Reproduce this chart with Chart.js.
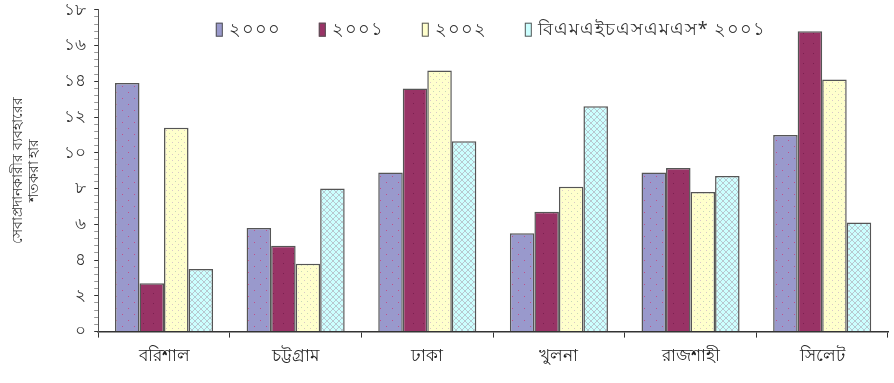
<!DOCTYPE html>
<html lang="bn">
<head>
<meta charset="UTF-8" />
<title>সেবাপ্রদানকারীর ব্যবহার</title>
<script src="https://cdn.jsdelivr.net/npm/chart.js"></script>
<style>
  html, body { margin: 0; padding: 0; background: #fff; }
  #wrap { width: 894px; height: 383px; }
</style>
</head>
<body>
<div id="wrap"><canvas id="chart"></canvas></div>
<script>
  // divisions and series
  const categories = ['বরিশাল', 'চট্টগ্রাম', 'ঢাকা', 'খুলনা', 'রাজশাহী', 'সিলেট'];
  const seriesNames = ['২০০০', '২০০১', '২০০২', 'বিএমএইচএসএমএস* ২০০১'];
  const values2000 = [13.9, 5.8, 8.9, 5.5, 8.9, 11.0];
  const values2001 = [2.7, 4.8, 13.6, 6.7, 9.15, 16.8];
  const values2002 = [11.4, 3.8, 14.6, 8.1, 7.8, 14.1];
  const valuesBmhs = [3.5, 8.0, 10.65, 12.6, 8.7, 6.1];
  const yTitle = ['সেবাপ্রদানকারীর ব্যবহারের', 'শতকরা হার'];

  const bnDigits = ['০', '১', '২', '৩', '৪', '৫', '৬', '৭', '৮', '৯'];
  const toBn = n => String(n).replace(/\d/g, d => bnDigits[+d]);
  const isMajor = v => Math.abs(v / 2 - Math.round(v / 2)) < 1e-6;

  // small tiled fills, drawn once and used as canvas patterns
  function makePattern(bg, draw, size) {
    const c = document.createElement('canvas');
    c.width = size; c.height = size;
    const g = c.getContext('2d');
    g.fillStyle = bg;
    g.fillRect(0, 0, size, size);
    draw(g);
    return g.createPattern(c, 'repeat');
  }
  const ctx = document.getElementById('chart').getContext('2d');

  const fill2000 = makePattern('#9999cc', g => {
    g.fillStyle = '#c0508a';
    g.fillRect(2, 2, 1, 1);
    g.fillRect(8, 8, 1, 1);
  }, 12);
  const fill2001 = makePattern('#993366', g => {
    g.fillStyle = '#7a2050';
    g.fillRect(3, 3, 1, 1);
  }, 10);
  const fill2002 = makePattern('#ffffcc', g => {
    g.fillStyle = '#c8d8b8';
    g.fillRect(1, 1, 1, 1);
    g.fillStyle = '#d8c8c8';
    g.fillRect(4, 4, 1, 1);
  }, 6);
  const fillBmhs = makePattern('#ccffff', g => {
    g.strokeStyle = '#b8c8d0';
    g.lineWidth = 1;
    g.beginPath();
    g.moveTo(0, 0); g.lineTo(6, 6);
    g.moveTo(6, 0); g.lineTo(0, 6);
    g.stroke();
  }, 6);

  const fills = [fill2000, fill2001, fill2002, fillBmhs];
  const swatch = ['#9999cc', '#993366', '#ffffcc', '#ccffff'];
  const seriesValues = [values2000, values2001, values2002, valuesBmhs];

  const font = "'Noto Sans', 'DejaVu Sans', sans-serif";

  // one-row legend drawn inside the top of the plot area
  const insideLegend = {
    id: 'insideLegend',
    afterDraw(chart) {
      const g = chart.ctx;
      const area = chart.chartArea;
      const boxW = 7, boxH = 14, textGap = 6, itemGap = 38;
      g.save();
      g.font = '18px ' + font;
      g.letterSpacing = '1px';
      const widths = seriesNames.map(n => boxW + textGap + g.measureText(n).width);
      const total = widths.reduce((a, b) => a + b, 0) + itemGap * (widths.length - 1);
      let x = (area.left + area.right) / 2 - total / 2 - 2;
      const y = area.top + 20;
      seriesNames.forEach((name, i) => {
        g.fillStyle = swatch[i];
        g.fillRect(x, y - boxH / 2, boxW, boxH);
        g.strokeStyle = '#555';
        g.lineWidth = 1;
        g.strokeRect(x + 0.5, y - boxH / 2 + 0.5, boxW - 1, boxH - 1);
        g.fillStyle = '#333';
        g.textBaseline = 'middle';
        g.fillText(name, x + boxW + textGap, y);
        x += widths[i] + itemGap;
      });
      g.restore();
    }
  };

  new Chart(ctx, {
    type: 'bar',
    data: {
      labels: categories,
      datasets: seriesNames.map((name, i) => ({
        label: name,
        data: seriesValues[i],
        backgroundColor: fills[i],
        borderColor: '#555',
        borderWidth: 1.5,
        borderSkipped: 'bottom',
        categoryPercentage: 0.745,
        barPercentage: 1
      }))
    },
    options: {
      responsive: true,
      maintainAspectRatio: false,
      animation: false,
      layout: { padding: { top: 0, right: 6, left: 6, bottom: 9 } },
      plugins: {
        tooltip: { enabled: false },
        legend: { display: false }
      },
      scales: {
        x: {
          grid: {
            display: true,
            drawOnChartArea: false,
            offset: true,
            tickLength: 6,
            color: '#333'
          },
          border: { color: '#333', width: 1.5 },
          ticks: {
            font: { family: font, size: 17 },
            color: '#222',
            padding: 8
          }
        },
        y: {
          min: 0,
          max: 18,
          grid: {
            drawOnChartArea: false,
            tickLength: 4,
            tickColor: c => (isMajor(c.tick.value) ? '#333' : '#999')
          },
          border: { color: '#555', width: 1 },
          ticks: {
            stepSize: 0.4,
            autoSkip: false,
            // tight line height keeps the top label from pushing the plot down
            font: { family: font, size: 17, lineHeight: 0.2 },
            color: '#333',
            padding: 8,
            callback: v => (isMajor(v) ? toBn(Math.round(v)) : '')
          },
          title: {
            display: true,
            text: yTitle,
            font: { family: font, size: 14, lineHeight: 1.15 },
            color: '#333',
            padding: { bottom: 14 }
          }
        }
      }
    },
    plugins: [insideLegend]
  });
</script>
</body>
</html>
